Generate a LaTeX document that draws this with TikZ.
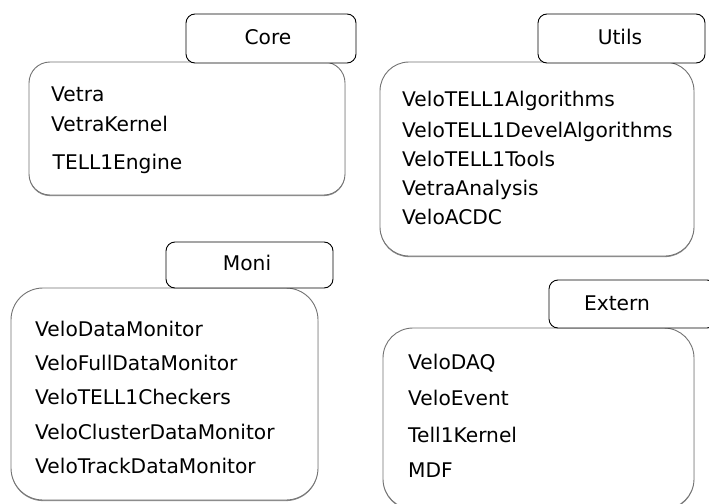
\documentclass[tikz,border=0pt]{standalone}
\usepackage{fontspec}
\setmainfont{DejaVu Sans}
\usetikzlibrary{shadows}
\begin{document}
\begin{tikzpicture}[x=1pt,y=-1pt,
  group/.style={draw=black!55, line width=0.9pt, fill=white, inner sep=0pt,
    drop shadow={shadow xshift=0pt, shadow yshift=-1.1pt, fill=black!45, opacity=1}},
  tab/.style={draw=black, line width=0.9pt, fill=white, rounded corners=9pt, inner sep=0pt},
  item/.style={anchor=base west, inner sep=0pt, font=\fontsize{20.2}{24}\selectfont},
  title/.style={anchor=base, inner sep=0pt, font=\fontsize{20.2}{24}\selectfont}]
\useasboundingbox (0,0) rectangle (709,503);
\clip (0,0) rectangle (709,503);
\fill[white] (0,0) rectangle (709,503);

% Core package group
\node[group, rounded corners=21pt, minimum width=316pt, minimum height=133pt] (corebox) at (187,128.5) {};
\node[tab, minimum width=170pt, minimum height=49pt] (coretab) at (271,38.5) {};
\node[title] (coret) at (268,44.5) {Core};
\node[item] (c1) at (51,101.5) {Vetra};
\node[item] (c2) at (51,131.5) {VetraKernel};
\node[item] (c3) at (52.5,169.5) {TELL1Engine};

% Utils package group
\node[group, rounded corners=29pt, minimum width=314pt, minimum height=194pt] (utilsbox) at (537,159) {};
\node[tab, minimum width=167pt, minimum height=49pt] (utilstab) at (621.5,38.5) {};
\node[title] (utilst) at (620,44.5) {Utils};
\node[item] (u1) at (402,106.5) {VeloTELL1Algorithms};
\node[item] (u2) at (402,137.5) {VeloTELL1DevelAlgorithms};
\node[item] (u3) at (402,166.5) {VeloTELL1Tools};
\node[item] (u4) at (402,195.5) {VetraAnalysis};
\node[item] (u5) at (402,224.5) {VeloACDC};

% Moni package group
\node[group, rounded corners=32pt, minimum width=307pt, minimum height=212pt] (monibox) at (164.5,394) {};
\node[tab, minimum width=167pt, minimum height=46pt] (monitab) at (249.5,265) {};
\node[title] (monit) at (247,270.5) {Moni};
\node[item] (m1) at (35,336.5) {VeloDataMonitor};
\node[item] (m2) at (35,370.5) {VeloFullDataMonitor};
\node[item] (m3) at (35,404.5) {VeloTELL1Checkers};
\node[item] (m4) at (35,439.5) {VeloClusterDataMonitor};
\node[item] (m5) at (35,473.5) {VeloTrackDataMonitor};

% Extern package group
\node[group, rounded corners=30pt, minimum width=311pt, minimum height=181pt] (externbox) at (538.5,418.5) {};
\node[tab, minimum width=167pt, minimum height=48pt] (interntab) at (632.5,304) {};
\node[title] (externt) at (617,310.5) {Extern};
\node[item] (e1) at (408,369.5) {VeloDAQ};
\node[item] (e2) at (408,405.5) {VeloEvent};
\node[item] (e3) at (408,442.5) {Tell1Kernel};
\node[item] (e4) at (408,477.5) {MDF};
\end{tikzpicture}
\end{document}
